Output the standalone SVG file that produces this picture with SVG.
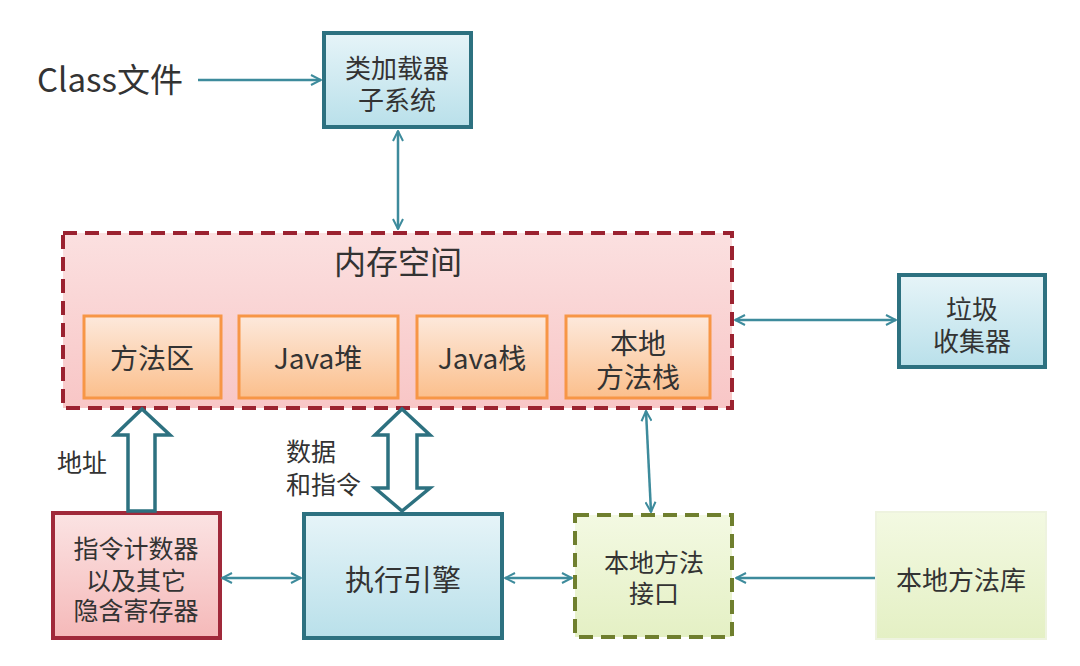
<svg xmlns="http://www.w3.org/2000/svg" width="1080" height="666" viewBox="0 0 1080 666">
<defs>
<linearGradient id="gBlue" x1="0" y1="0" x2="0" y2="1"><stop offset="0" stop-color="#e6f4f8"/><stop offset="1" stop-color="#b9e0ea"/></linearGradient>
<linearGradient id="gPink" x1="0" y1="0" x2="0" y2="1"><stop offset="0" stop-color="#fbe0e0"/><stop offset="1" stop-color="#f8c6c6"/></linearGradient>
<linearGradient id="gRed" x1="0" y1="0" x2="0" y2="1"><stop offset="0" stop-color="#fbe3e3"/><stop offset="1" stop-color="#f5b9b9"/></linearGradient>
<linearGradient id="gOrange" x1="0" y1="0" x2="0" y2="1"><stop offset="0" stop-color="#fde9dc"/><stop offset="1" stop-color="#fbbf8c"/></linearGradient>
<linearGradient id="gGreen" x1="0" y1="0" x2="0" y2="1"><stop offset="0" stop-color="#f3f9e2"/><stop offset="1" stop-color="#e4f0c4"/></linearGradient>
<marker id="ah" viewBox="0 0 12 12" refX="11" refY="6" markerWidth="12" markerHeight="12" markerUnits="userSpaceOnUse" orient="auto-start-reverse">
<path d="M1,1 L11,6 L1,11" fill="none" stroke="#3d8b9c" stroke-width="2"/>
</marker>
<style>
text{font-family:"Noto Sans CJK SC","Liberation Sans",sans-serif;fill:#333;text-anchor:middle;}
.t28{font-size:28px;}
.t26{font-size:26px;}
.t25{font-size:25px;}
.teal{fill:url(#gBlue);stroke:#2d7180;stroke-width:4;}
.orange{fill:url(#gOrange);stroke:#f79646;stroke-width:3;}
.conn{stroke:#3d8b9c;stroke-width:2.5;fill:none;}
.hollow{fill:#fff;stroke:#2d7180;stroke-width:3.5;stroke-linejoin:miter;}
</style>
</defs>
<rect width="1080" height="666" fill="#ffffff"/>

<g id="class-file"><text x="37" y="92" style="font-size:33px;text-anchor:start">Class文件</text></g>

<g id="class-loader">
<rect class="teal" x="324" y="33" width="147" height="94"/>
<text class="t26" x="397" y="78">类加载器</text>
<text class="t26" x="397" y="110">子系统</text>
</g>

<g id="memory">
<rect x="63" y="233" width="669" height="175" fill="url(#gPink)" stroke="#9b2230" stroke-width="4" stroke-dasharray="14 8"/>
<text x="398" y="274" style="font-size:32px">内存空间</text>
</g>
<g id="method-area"><rect class="orange" x="84" y="316" width="137" height="82"/><text class="t28" x="152" y="369">方法区</text></g>
<g id="java-heap"><rect class="orange" x="239" y="316" width="159" height="82"/><text class="t28" x="318" y="369">Java堆</text></g>
<g id="java-stack"><rect class="orange" x="417" y="316" width="130" height="82"/><text class="t28" x="482" y="369">Java栈</text></g>
<g id="native-stack"><rect class="orange" x="566" y="316" width="144" height="82"/><text class="t28" x="638" y="354">本地</text><text class="t28" x="638" y="388">方法栈</text></g>

<g id="gc">
<rect class="teal" x="899" y="275" width="146" height="92"/>
<text class="t26" x="972" y="319">垃圾</text>
<text class="t26" x="972" y="351">收集器</text>
</g>

<g id="pc-register">
<rect x="53" y="513" width="167" height="125" fill="url(#gRed)" stroke="#a0293a" stroke-width="4"/>
<text class="t25" x="136" y="558">指令计数器</text>
<text class="t25" x="136" y="590">以及其它</text>
<text class="t25" x="136" y="620">隐含寄存器</text>
</g>

<g id="exec-engine">
<rect class="teal" x="304" y="514" width="198" height="124"/>
<text x="403" y="591" style="font-size:29px">执行引擎</text>
</g>

<g id="native-interface">
<rect x="575" y="515" width="157" height="122" fill="url(#gGreen)" stroke="#6f7f2e" stroke-width="4" stroke-dasharray="14 8"/>
<text class="t25" x="654" y="572">本地方法</text>
<text class="t25" x="654" y="603">接口</text>
</g>

<g id="native-library">
<rect x="876" y="512" width="170" height="127" fill="url(#gGreen)" stroke="#eef3df" stroke-width="2"/>
<text class="t26" x="961" y="590">本地方法库</text>
</g>

<g id="labels">
<text class="t25" x="82" y="472">地址</text>
<text class="t25" x="286" y="461" style="text-anchor:start">数据</text>
<text class="t25" x="286" y="494" style="text-anchor:start">和指令</text>
</g>

<g id="connectors">
<line class="conn" x1="198" y1="80" x2="321" y2="80" marker-end="url(#ah)"/>
<line class="conn" x1="398" y1="131" x2="398" y2="229" marker-start="url(#ah)" marker-end="url(#ah)"/>
<line class="conn" x1="735" y1="320" x2="896" y2="320" marker-start="url(#ah)" marker-end="url(#ah)"/>
<line class="conn" x1="222" y1="578" x2="301" y2="578" marker-start="url(#ah)" marker-end="url(#ah)"/>
<line class="conn" x1="505" y1="578" x2="572" y2="578" marker-start="url(#ah)" marker-end="url(#ah)"/>
<line class="conn" x1="646" y1="411" x2="651" y2="512" marker-start="url(#ah)" marker-end="url(#ah)"/>
<line class="conn" x1="875" y1="578" x2="736" y2="578" marker-end="url(#ah)"/>
<path class="hollow" d="M128,511 L128,435 L115,435 L142,409 L170,435 L155,435 L155,511 Z"/>
<path class="hollow" d="M402,409 L430,435 L417,435 L417,488 L430,488 L402,511 L375,488 L388,488 L388,435 L375,435 Z"/>
</g>
</svg>
